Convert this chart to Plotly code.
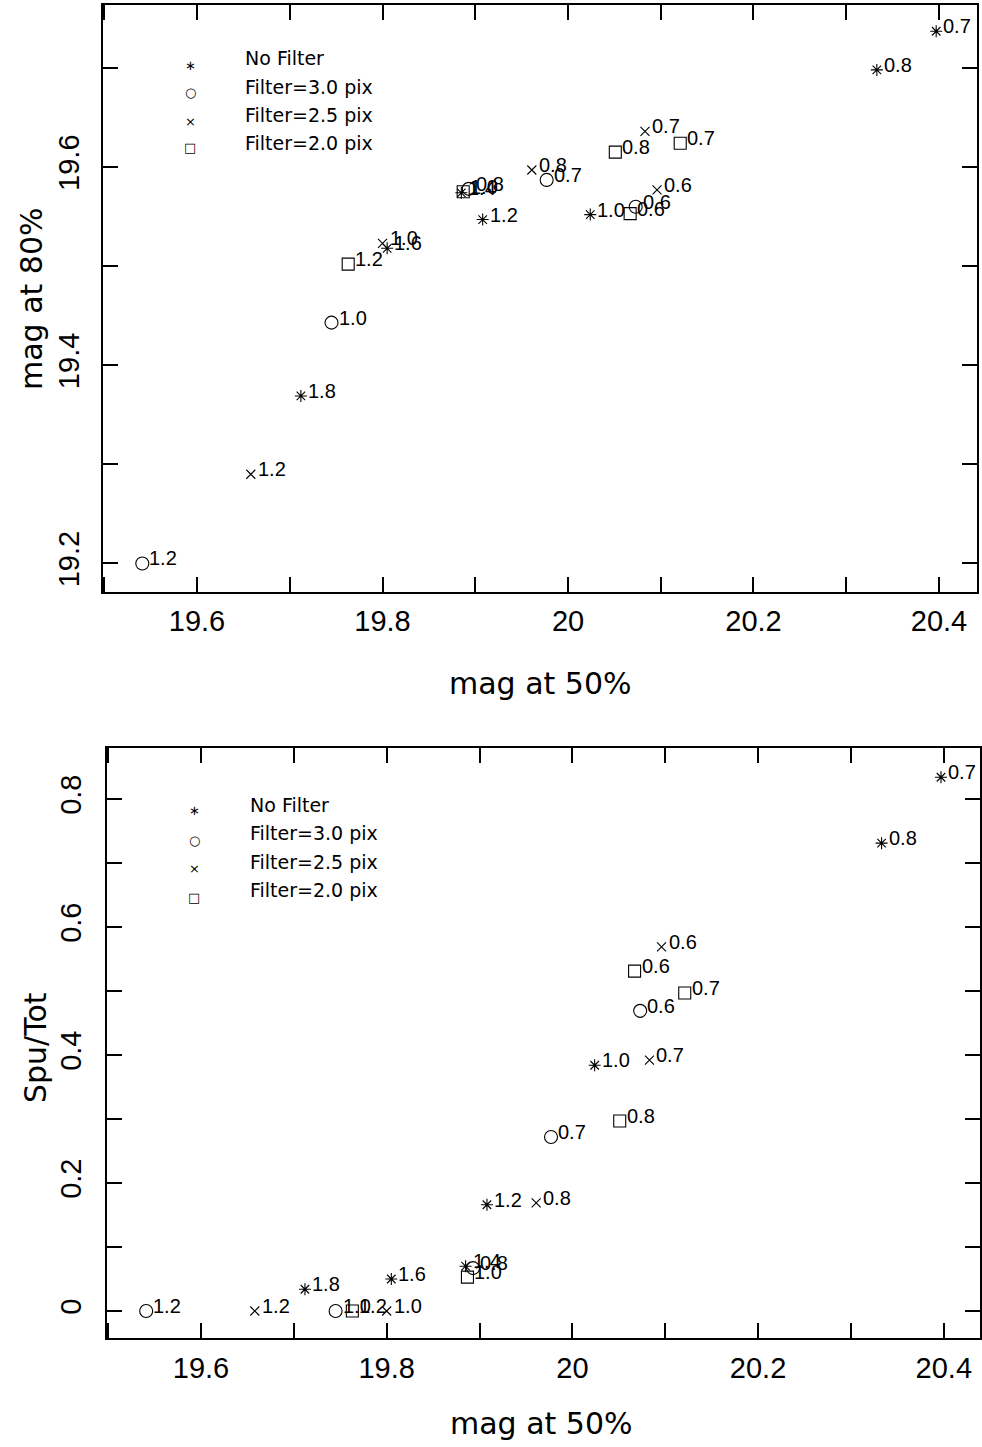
import plotly.graph_objects as go

W, H = 982, 1447

# ---------------- data ----------------
labels_nf = ["0.7", "0.8", "1.0", "1.2", "1.4", "1.6", "1.8"]
mag50_nf = [20.397, 20.333, 20.024, 19.908, 19.885, 19.805, 19.712]
mag80_nf = [19.737, 19.698, 19.552, 19.547, 19.574, 19.518, 19.369]
spu_nf = [0.834, 0.731, 0.384, 0.166, 0.070, 0.050, 0.034]

labels_f30 = ["1.2", "1.0", "0.8", "0.7", "0.6"]
mag50_f30 = [19.541, 19.745, 19.893, 19.977, 20.073]
mag80_f30 = [19.200, 19.443, 19.578, 19.587, 19.560]
spu_f30 = [0.0, 0.0, 0.067, 0.272, 0.469]

labels_f25 = ["1.2", "1.0", "0.8", "0.7", "0.6"]
mag50_f25 = [19.658, 19.800, 19.961, 20.083, 20.096]
mag80_f25 = [19.290, 19.523, 19.597, 19.636, 19.577]
spu_f25 = [0.0, 0.0, 0.169, 0.392, 0.569]

labels_f20 = ["1.2", "1.0", "0.8", "0.7", "0.6"]
mag50_f20 = [19.763, 19.887, 20.051, 20.121, 20.067]
mag80_f20 = [19.502, 19.575, 19.615, 19.624, 19.553]
spu_f20 = [0.0, 0.053, 0.297, 0.497, 0.531]

legend_names = ["No Filter", "Filter=3.0 pix", "Filter=2.5 pix", "Filter=2.0 pix"]
legend_glyphs = ["\u2217", "\u25cb", "\u00d7", "\u25a1"]

x_title = "mag at 50%"
y1_title = "mag at 80%"
y2_title = "Spu/Tot"

# ---------------- styling ----------------
series = [
    (legend_names[0], "asterisk-open", 10, mag50_nf, mag80_nf, spu_nf, labels_nf),
    (legend_names[1], "circle-open", 13, mag50_f30, mag80_f30, spu_f30, labels_f30),
    (legend_names[2], "x-thin-open", 9, mag50_f25, mag80_f25, spu_f25, labels_f25),
    (legend_names[3], "square-open", 12, mag50_f20, mag80_f20, spu_f20, labels_f20),
]

NUM_FONT = "Liberation Sans"
TXT_FONT = "DejaVu Sans"


def px(x):
    return x / W


def py(y):
    return 1 - y / H


fig = go.Figure()
annotations = []

for name, sym, size, xs, y1, y2, labs in series:
    mk = dict(symbol=sym, size=size, color="black", line=dict(color="black", width=1.1))
    fig.add_trace(go.Scatter(x=xs, y=y1, mode="markers", marker=mk, name=name,
                             showlegend=False, xaxis="x", yaxis="y", cliponaxis=False))
    fig.add_trace(go.Scatter(x=xs, y=y2, mode="markers", marker=mk, name=name,
                             showlegend=False, xaxis="x2", yaxis="y2", cliponaxis=False))
    for xv, yv, lv in zip(xs, y1, labs):
        annotations.append(dict(x=xv, y=yv, xref="x", yref="y", text=lv, showarrow=False,
                                xanchor="left", yanchor="middle", xshift=5, yshift=5,
                                font=dict(family=NUM_FONT, size=20, color="black")))
    for xv, yv, lv in zip(xs, y2, labs):
        annotations.append(dict(x=xv, y=yv, xref="x2", yref="y2", text=lv, showarrow=False,
                                xanchor="left", yanchor="middle", xshift=5, yshift=5,
                                font=dict(family=NUM_FONT, size=20, color="black")))


def add_legend(sym_x, txt_x, txt_rows, sym_rows):
    for nm, gl, ty, sy in zip(legend_names, legend_glyphs, txt_rows, sym_rows):
        annotations.append(dict(x=px(txt_x), y=py(ty), xref="paper", yref="paper", text=nm,
                                showarrow=False, xanchor="left", yanchor="middle",
                                font=dict(family=TXT_FONT, size=19, color="black")))
        annotations.append(dict(x=px(sym_x), y=py(sy), xref="paper", yref="paper", text=gl,
                                showarrow=False, xanchor="center", yanchor="middle",
                                font=dict(family=TXT_FONT, size=13, color="black")))


add_legend(190, 243, [58, 87, 115, 143], [65, 93, 122, 148])
add_legend(194, 248, [805, 833, 862, 890], [810, 840, 868, 897])


def title_ann(text, x, y, angle=0):
    annotations.append(dict(x=px(x), y=py(y), xref="paper", yref="paper", text=text,
                            showarrow=False, xanchor="center", yanchor="middle", textangle=angle,
                            font=dict(family=TXT_FONT, size=30, color="black")))


title_ann(x_title, 540, 683)
title_ann(y1_title, 31, 299, -90)
title_ann(x_title, 541, 1423)
title_ann(y2_title, 35, 1048, -90)


def axis(rng, dom, tick0, dtick, minor_dtick, anchor, angle=0, standoff=16):
    return dict(range=rng, domain=dom, anchor=anchor, tick0=tick0, dtick=dtick,
                showline=True, linecolor="black", linewidth=2, mirror="ticks",
                ticks="inside", ticklen=15, tickwidth=1.5, tickcolor="black",
                showgrid=False, zeroline=False, tickangle=angle,
                ticklabelstandoff=standoff,
                tickfont=dict(family=NUM_FONT, size=29, color="black"),
                minor=dict(ticks="inside", ticklen=15, tickwidth=1.5, tickcolor="black",
                           dtick=minor_dtick, tick0=tick0, showgrid=False))


fig.update_layout(
    width=W, height=H,
    margin=dict(l=0, r=0, t=0, b=0),
    paper_bgcolor="white", plot_bgcolor="white",
    showlegend=False,
    xaxis=axis([19.4983, 20.441], [px(102.7), px(977)], 19.6, 0.2, 0.1, "y", 0, 3),
    yaxis=axis([19.1717, 19.7635], [py(591.5), py(5)], 19.2, 0.2, 0.1, "x", -90, 10),
    xaxis2=axis([19.4988, 20.439], [px(107), px(980)], 19.6, 0.2, 0.1, "y2", 0, 4),
    yaxis2=axis([-0.0414, 0.8797], [py(1337.5), py(748)], 0, 0.2, 0.1, "x2", -90, 12),
    annotations=annotations,
)

# remove the default page margin so the figure sits at the page corner
fig.write_html(
    "out.html",
    config={"displayModeBar": False},
    post_script="document.body.style.margin='0';document.body.style.padding='0';"
                "document.documentElement.style.overflow='hidden';",
)
